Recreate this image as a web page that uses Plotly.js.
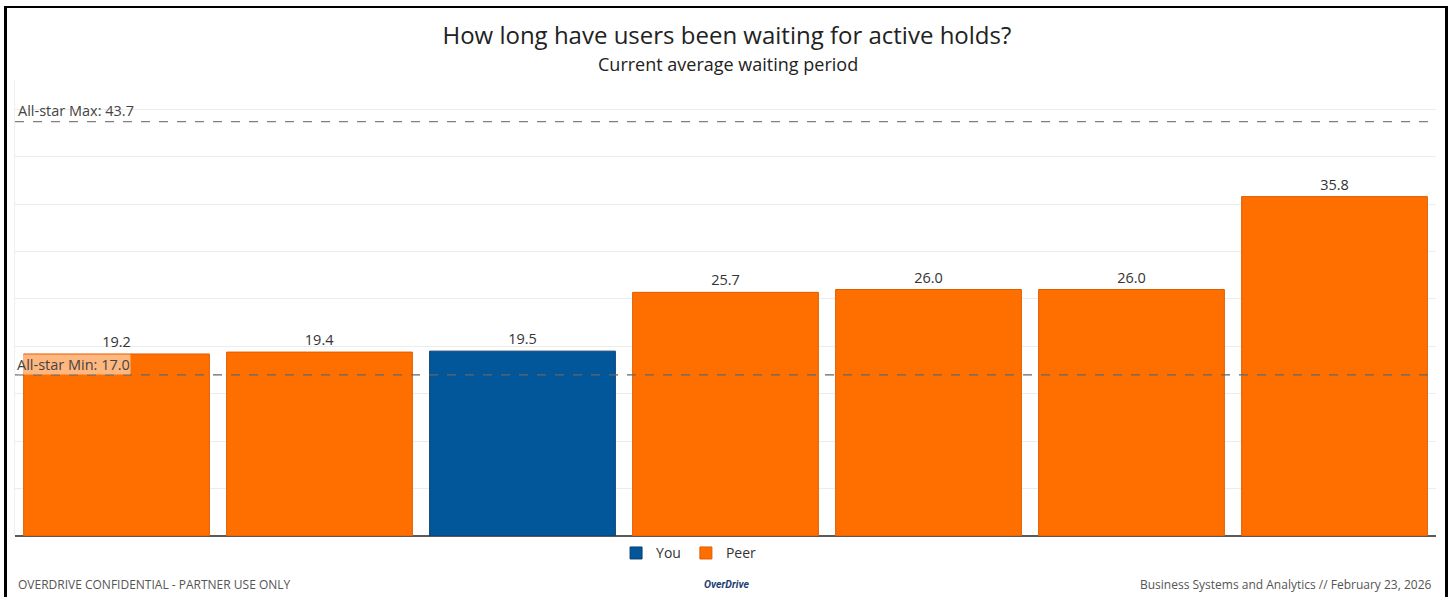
<!DOCTYPE html>
<html>
<head>
<meta charset="utf-8">
<script src="https://cdn.plot.ly/plotly-3.0.1.min.js"></script>
<style>
html,body{margin:0;padding:0;background:#fff;}
#wrap{position:relative;width:1448px;height:597px;overflow:hidden;}
#chart{position:absolute;left:0;top:0;width:1448px;height:597px;}
#frame{position:absolute;left:4px;top:6px;width:1438px;height:600px;border-left:3px solid #000;border-top:2px solid #000;border-right:3px solid #000;pointer-events:none;}
</style>
</head>
<body>
<div id="wrap"><div id="chart"></div><div id="frame"></div></div>
<script>
const categories = ["Peer A", "Peer B", "You", "Peer C", "Peer D", "Peer E", "Peer F"];
const youCategories = ["You"];
const youValues = [19.5];
const peerCategories = ["Peer A", "Peer B", "Peer C", "Peer D", "Peer E", "Peer F"];
const peerValues = [19.2, 19.4, 25.7, 26.0, 26.0, 35.8];
const allStarMax = 43.7;
const allStarMin = 17.0;

const FONT = "'Open Sans', sans-serif";
const ORANGE = "#FF6F00";
const BLUE = "#02569A";

const traces = [
  {
    type: "bar", name: "You", x: youCategories, y: youValues,
    marker: {color: BLUE, line: {color: "#0b3f73", width: 1}},
    text: youValues.map(v => v.toFixed(1)), textposition: "outside",
    textfont: {family: FONT, size: 14.5, color: "#333"},
    cliponaxis: false, hoverinfo: "x+y"
  },
  {
    type: "bar", name: "Peer", x: peerCategories, y: peerValues,
    marker: {color: ORANGE, line: {color: "#e05c00", width: 1}},
    text: peerValues.map(v => v.toFixed(1)), textposition: "outside",
    textfont: {family: FONT, size: 14.5, color: "#333"},
    cliponaxis: false, hoverinfo: "x+y"
  }
];

const layout = {
  width: 1448, height: 597,
  margin: {l: 15, r: 12, t: 80, b: 61},
  paper_bgcolor: "rgba(0,0,0,0)", plot_bgcolor: "#fff",
  font: {family: FONT, color: "#333"},
  barmode: "overlay", bargap: 0.085,
  showlegend: true,
  legend: {orientation: "h", x: 0.474, xanchor: "center", y: -0.003, yanchor: "top",
           font: {family: FONT, size: 14, color: "#333"}, itemwidth: 30, traceorder: "normal"},
  title: {text: "How long have users been waiting for active holds?",
          x: 0.502, xanchor: "center", y: 0.941, yanchor: "middle",
          font: {family: FONT, size: 24, color: "#222"}},
  xaxis: {type: "category", categoryorder: "array", categoryarray: categories,
          showticklabels: false, showgrid: false, zeroline: false,
          showline: false, ticks: "", fixedrange: true},
  yaxis: {range: [0, 48.1], dtick: 5, showticklabels: false, ticks: "",
          showgrid: true, gridcolor: "#ececec", gridwidth: 1,
          zeroline: true, zerolinecolor: "#5a5a5a", zerolinewidth: 1.5,
          showline: true, linecolor: "#efefef", linewidth: 1, fixedrange: true},
  shapes: [
    {type: "line", xref: "paper", x0: 0, x1: 1, yref: "y", y0: allStarMax, y1: allStarMax,
     line: {color: "#808080", width: 1.2, dash: "dash"}},
    {type: "line", xref: "paper", x0: 0, x1: 1, yref: "y", y0: allStarMin, y1: allStarMin,
     line: {color: "#666", width: 1.2, dash: "dash"}, layer: "above"}
  ],
  annotations: [
    {text: "Current average waiting period", xref: "paper", yref: "paper",
     x: 0.502, y: 1.035, xanchor: "center", yanchor: "middle", showarrow: false,
     font: {family: FONT, size: 18, color: "#222"}},
    {text: "All-star Max: " + allStarMax.toFixed(1), xref: "paper", yref: "y",
     x: 0, y: allStarMax, xanchor: "left", yanchor: "bottom", xshift: 1, yshift: 0,
     showarrow: false, font: {family: FONT, size: 14.5, color: "#444"}},
    {text: "All-star Min: " + allStarMin.toFixed(1), xref: "paper", yref: "y",
     x: 0, y: allStarMin, xanchor: "left", yanchor: "bottom", xshift: 1, yshift: 0,
     showarrow: false, bgcolor: "rgba(255,255,255,0.5)", borderpad: 0,
     font: {family: FONT, size: 14.5, color: "#444"}},
    {text: "OVERDRIVE CONFIDENTIAL - PARTNER USE ONLY", xref: "paper", yref: "paper",
     x: 0, y: -0.107, xanchor: "left", yanchor: "middle", xshift: 1, showarrow: false,
     font: {family: FONT, size: 12, color: "#555"}},
    {text: "<b><i>OverDrive</i></b>", xref: "paper", yref: "paper",
     x: 0.5004, y: -0.107, xanchor: "center", yanchor: "middle", showarrow: false,
     font: {family: "Roboto, sans-serif", size: 10.5, color: "#1f3f74"}},
    {text: "Business Systems and Analytics // February 23, 2026", xref: "paper", yref: "paper",
     x: 1, y: -0.107, xanchor: "right", yanchor: "middle", xshift: -2, showarrow: false,
     font: {family: FONT, size: 12, color: "#555"}}
  ]
};

Plotly.newPlot("chart", traces, layout, {displayModeBar: false, staticPlot: true});
</script>
</body>
</html>
